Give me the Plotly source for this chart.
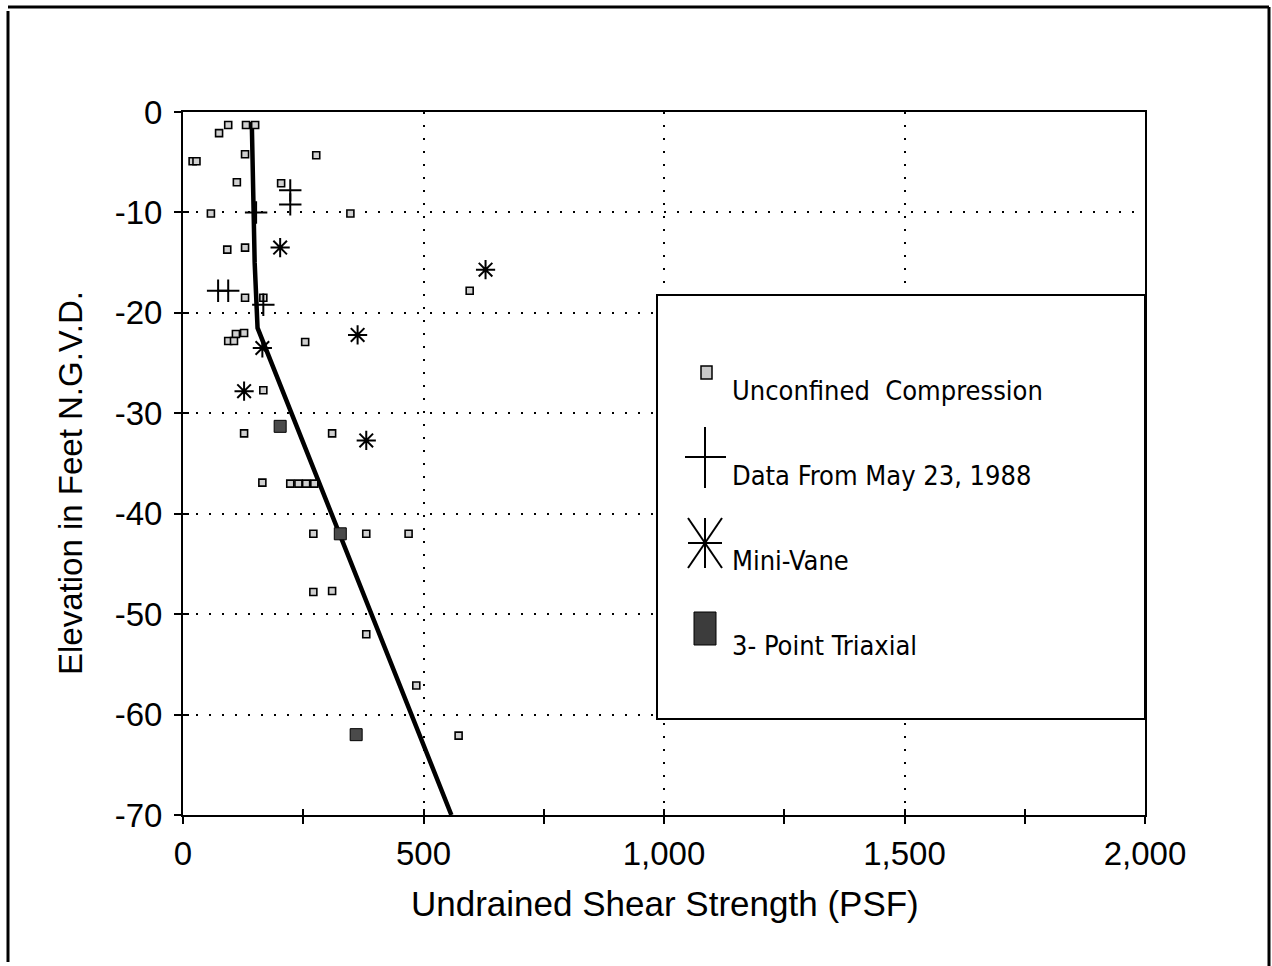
import plotly.graph_objects as go

# ---------------- data ----------------
uc_x = [94, 75, 131, 150, 20, 28, 129, 277, 112, 204, 58, 348, 92, 129, 129, 167,
        110, 127, 94, 106, 254, 167, 127, 310, 165, 223, 240, 256, 273,
        271, 381, 469, 271, 310, 381, 485, 573, 596]
uc_y = [-1.3, -2.1, -1.3, -1.3, -4.9, -4.9, -4.2, -4.3, -7.0, -7.1, -10.1, -10.1, -13.7, -13.5, -18.5, -18.5,
        -22.1, -22.0, -22.8, -22.8, -22.9, -27.7, -32.0, -32.0, -36.9, -37.0, -37.0, -37.0, -37.0,
        -42.0, -42.0, -42.0, -47.8, -47.7, -52.0, -57.1, -62.1, -17.8]

may88_x = [223, 223, 73, 94, 167, 152]
may88_y = [-7.8, -9.2, -17.8, -17.8, -19.2, -10.0]

vane_x = [202, 363, 165, 127, 381, 629]
vane_y = [-13.5, -22.2, -23.5, -27.8, -32.7, -15.7]

tri_x = [202, 327, 360]
tri_y = [-31.3, -42.0, -62.0]

trend_x = [143, 149, 155, 558]
trend_y = [-1.0, -15.0, -21.5, -70.0]

x_ticks = [0, 500, 1000, 1500, 2000]
x_tick_text = ["0", "500", "1,000", "1,500", "2,000"]
y_ticks = [0, -10, -20, -30, -40, -50, -60, -70]
y_tick_text = ["0", "-10", "-20", "-30", "-40", "-50", "-60", "-70"]

legend_labels = ["Unconfined  Compression", "Data From May 23, 1988", "Mini-Vane", "3- Point Triaxial"]

# ---------------- layout geometry ----------------
W, H = 1272, 966
L, R, T, B = 183, 1145, 112, 815
PW, PH = R - L, B - T


def px(xp):
    return (xp - L) / PW


def py(yp):
    return (B - yp) / PH


FONT = "Liberation Sans, Arial, Helvetica, sans-serif"
NARROW = "Liberation Sans Narrow, Arial Narrow, DejaVu Sans Condensed, Liberation Sans, sans-serif"

fig = go.Figure()

fig.add_trace(go.Scatter(x=trend_x, y=trend_y, mode="lines",
                         line=dict(color="black", width=4.5), showlegend=False))
fig.add_trace(go.Scatter(x=uc_x, y=uc_y, mode="markers", name=legend_labels[0],
                         marker=dict(symbol="square", size=7, color="#d0d0d0",
                                     line=dict(color="black", width=1.6)), showlegend=False))
fig.add_trace(go.Scatter(x=may88_x, y=may88_y, mode="markers", name=legend_labels[1],
                         marker=dict(symbol="cross-thin", size=16,
                                     line=dict(color="black", width=2)), showlegend=False))
fig.add_trace(go.Scatter(x=vane_x, y=vane_y, mode="markers", name=legend_labels[2],
                         marker=dict(symbol="asterisk-open", size=16, color="black",
                                     line=dict(color="black", width=2)), showlegend=False))
fig.add_trace(go.Scatter(x=tri_x, y=tri_y, mode="markers", name=legend_labels[3],
                         marker=dict(symbol="square", size=12, color="#4a4a4a",
                                     line=dict(color="black", width=1)), showlegend=False))
# invisible trace for the overlay axes (inside half of the cross ticks)
fig.add_trace(go.Scatter(x=[0], y=[0], xaxis="x2", yaxis="y2", mode="markers",
                         marker=dict(opacity=0), showlegend=False, hoverinfo="skip"))

axis_common = dict(showline=True, linecolor="black", linewidth=2,
                   tickfont=dict(family=FONT, size=33, color="black"),
                   zeroline=False)

fig.update_layout(
    width=W, height=H,
    margin=dict(l=L, r=W - R, t=T, b=H - B),
    paper_bgcolor="white", plot_bgcolor="white",
    showlegend=False,
    xaxis=dict(range=[0, 2000], tickvals=x_ticks, ticktext=x_tick_text,
               ticks="outside", ticklen=7, tickwidth=1.5, tickcolor="black",
               minor=dict(dtick=250, tick0=0, ticks="outside", ticklen=7, tickwidth=1.5,
                          tickcolor="black", showgrid=False),
               showgrid=True, gridcolor="black", gridwidth=1.5, griddash="2px,11px",
               mirror=True, ticklabelstandoff=1, **axis_common),
    yaxis=dict(range=[-70, 0], tickvals=y_ticks, ticktext=y_tick_text,
               ticks="outside", ticklen=7, tickwidth=1.5, tickcolor="black",
               showgrid=True, gridcolor="black", gridwidth=1.5, griddash="2px,11px",
               mirror=True, ticklabelstandoff=5, **axis_common),
    xaxis2=dict(overlaying="x", anchor="y", side="bottom", range=[0, 2000],
                tickvals=x_ticks, ticks="inside", ticklen=6, tickwidth=1.5, tickcolor="black",
                minor=dict(dtick=250, tick0=0, ticks="inside", ticklen=6, tickwidth=1.5,
                           tickcolor="black", showgrid=False),
                showticklabels=False, showgrid=False, showline=False, zeroline=False),
    yaxis2=dict(overlaying="y", anchor="x", side="left", range=[-70, 0],
                tickvals=y_ticks, ticks="inside", ticklen=6, tickwidth=1.5, tickcolor="black",
                showticklabels=False, showgrid=False, showline=False, zeroline=False),
)

# axis titles
fig.add_annotation(text="Undrained Shear Strength (PSF)", xref="paper", yref="paper",
                   x=px(665), y=py(903), showarrow=False, xanchor="center", yanchor="middle",
                   font=dict(family=FONT, size=35, color="black"))
fig.add_annotation(text="Elevation in Feet N.G.V.D.", xref="paper", yref="paper",
                   x=px(70), y=py(483), showarrow=False, xanchor="center", yanchor="middle",
                   textangle=-90, font=dict(family=FONT, size=33, color="black"))

shapes = []
# legend box
shapes.append(dict(type="rect", xref="paper", yref="paper", layer="above",
                   x0=px(657), x1=px(R), y0=py(719), y1=py(295),
                   line=dict(color="black", width=2), fillcolor="white"))
# legend keys
shapes.append(dict(type="rect", xref="paper", yref="paper", layer="above",
                   x0=px(701), x1=px(712), y0=py(379), y1=py(366),
                   line=dict(color="black", width=1.5), fillcolor="#c8c8c8"))
line_k = dict(color="black", width=2)
for (a, b, c, d) in [(685, 457, 726, 457), (705, 427, 705, 488),
                     (688, 543, 722, 543), (705, 518, 705, 568),
                     (688, 518, 722, 568), (722, 518, 688, 568)]:
    shapes.append(dict(type="line", xref="paper", yref="paper", layer="above",
                       x0=px(a), y0=py(b), x1=px(c), y1=py(d), line=line_k))
shapes.append(dict(type="rect", xref="paper", yref="paper", layer="above",
                   x0=px(694), x1=px(716), y0=py(645), y1=py(612),
                   line=dict(color="black", width=1), fillcolor="#3c3c3c"))
# outer frame of the page
frame = dict(color="black", width=3)
shapes.append(dict(type="line", xref="paper", yref="paper", x0=px(8), x1=px(1269),
                   y0=py(7), y1=py(7), line=frame))
shapes.append(dict(type="line", xref="paper", yref="paper", x0=px(8), x1=px(8),
                   y0=py(11), y1=py(962), line=frame))
shapes.append(dict(type="line", xref="paper", yref="paper", x0=px(1269), x1=px(1269),
                   y0=py(7), y1=py(966), line=frame))
fig.update_layout(shapes=shapes)

for lab, yc in zip(legend_labels, [390, 475, 560, 645]):
    fig.add_annotation(text=lab, xref="paper", yref="paper", x=px(730), y=py(yc),
                       showarrow=False, xanchor="left", yanchor="middle",
                       font=dict(family=NARROW, size=27, color="black"))

fig.write_html("out.html")
